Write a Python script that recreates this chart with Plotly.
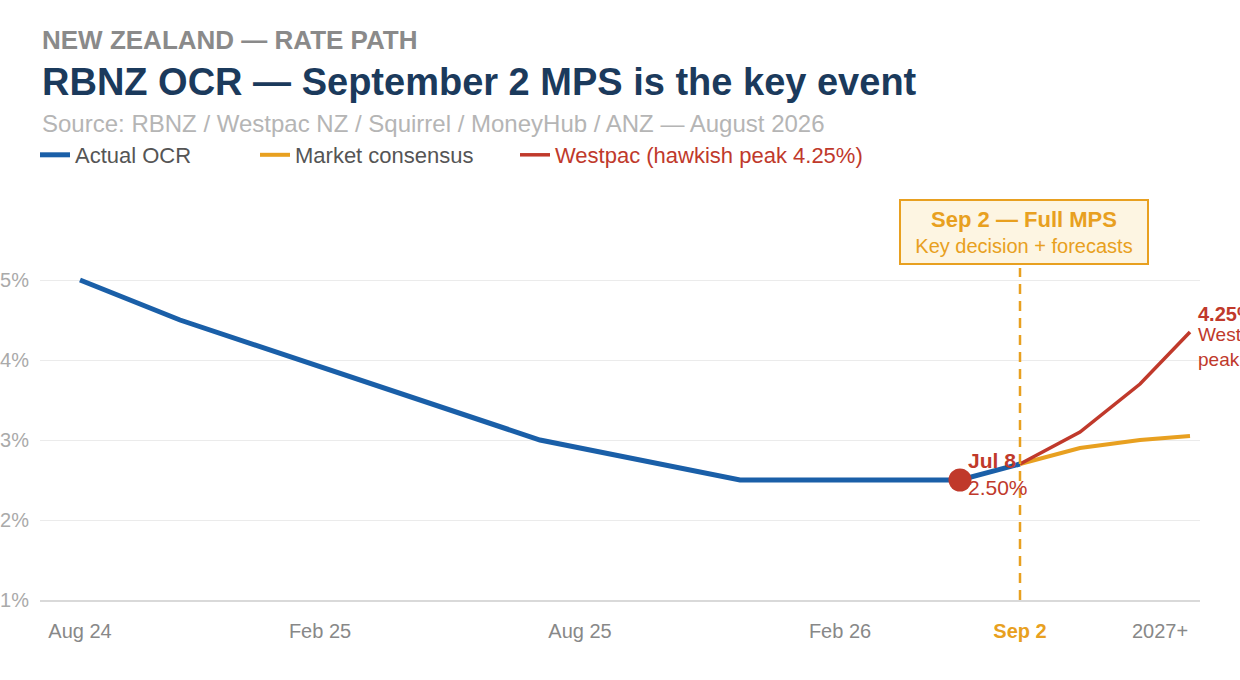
import plotly.graph_objects as go

# ---- data ----
tick_pos = [2, 14, 27, 40, 49, 56]
tick_labels = ["Aug 24", "Feb 25", "Aug 25", "Feb 26",
               "<b><span style='color:#e8a020'>Sep 2</span></b>", "2027+"]

actual_x = [2, 7, 25, 35, 46, 49]
actual_y = [5.0, 4.5, 3.0, 2.5, 2.5, 2.7]

consensus_x = [49, 52, 55, 57.5]
consensus_y = [2.7, 2.9, 3.0, 3.05]

westpac_x = [49, 52, 55, 57.5]
westpac_y = [2.7, 3.1, 3.7, 4.35]

jul8_x = [46]
jul8_y = [2.5]

event_x = 49  # Sep 2 MPS

y_ticks = [1, 2, 3, 4, 5, 5.875]
y_labels = ["1%", "2%", "3%", "4%", "5%", ""]

BLUE = "#1a5fa8"
ORANGE = "#e8a020"
RED = "#c0392b"
FONT = "Liberation Sans, Arial, sans-serif"

fig = go.Figure()
fig.add_trace(go.Scatter(x=actual_x, y=actual_y, mode="lines", name="Actual OCR",
                         line=dict(color=BLUE, width=5), legend="legend"))
fig.add_trace(go.Scatter(x=consensus_x, y=consensus_y, mode="lines", name="Market consensus",
                         line=dict(color=ORANGE, width=4), legend="legend2"))
fig.add_trace(go.Scatter(x=westpac_x, y=westpac_y, mode="lines",
                         name="Westpac (hawkish peak 4.25%)",
                         line=dict(color=RED, width=3.5), legend="legend3"))
fig.add_trace(go.Scatter(x=jul8_x, y=jul8_y, mode="markers", showlegend=False,
                         marker=dict(color=RED, size=23)))

# vertical dashed event line
fig.add_shape(type="line", xref="x", yref="paper", x0=event_x, x1=event_x,
              y0=0, y1=0.851, line=dict(color=ORANGE, width=2.5, dash="10px,7px"))

annotations = [
    dict(xref="paper", yref="paper", x=0, y=(600-40)/390, xanchor="left", yanchor="middle",
         text="<b>NEW ZEALAND — RATE PATH</b>", showarrow=False,
         font=dict(family=FONT, size=26, color="#8a8a8a")),
    dict(xref="paper", yref="paper", x=0, y=(600-82)/390, xanchor="left", yanchor="middle",
         text="<b>RBNZ OCR — September 2 MPS is the key event</b>", showarrow=False,
         font=dict(family=FONT, size=38, color="#1b3a5c")),
    dict(xref="paper", yref="paper", x=0, y=(600-124)/390, xanchor="left", yanchor="middle",
         text="Source: RBNZ / Westpac NZ / Squirrel / MoneyHub / ANZ — August 2026", showarrow=False,
         font=dict(family=FONT, size=24, color="#b5b5b5")),
    # event box
    dict(xref="x", yref="paper", x=event_x, y=(600-232)/390, xanchor="center", yanchor="middle",
         xshift=4, text="<b><span style='font-size:22px'>Sep 2 — Full MPS</span></b><br>Key decision + forecasts",
         showarrow=False, font=dict(family=FONT, size=20, color=ORANGE),
         bgcolor="#fdf5e2", bordercolor=ORANGE, borderwidth=2, borderpad=3,
         width=240, height=56, align="center"),
    # Jul 8 label
    dict(xref="x", yref="y", x=jul8_x[0], y=jul8_y[0], xanchor="left", yanchor="middle",
         xshift=6, yshift=6, text="<b>Jul 8</b><br>2.50%", showarrow=False, align="left",
         font=dict(family=FONT, size=21, color=RED)),
    # Westpac peak label
    dict(xref="x", yref="y", x=westpac_x[-1], y=westpac_y[-1], xanchor="left", yanchor="middle",
         xshift=6, yshift=18, text="<b>4.25%</b>", showarrow=False, align="left",
         font=dict(family=FONT, size=20, color=RED)),
    dict(xref="x", yref="y", x=westpac_x[-1], y=westpac_y[-1], xanchor="left", yanchor="middle",
         xshift=6, yshift=-15, text="Westpac<br>peak", showarrow=False, align="left",
         font=dict(family=FONT, size=19, color=RED)),
]

legend_common = dict(orientation="h", yref="paper", y=(600-155)/390, yanchor="middle",
                     xanchor="left", bgcolor="rgba(0,0,0,0)", borderwidth=0, itemwidth=30)

fig.update_layout(
    width=1240, height=680,
    margin=dict(l=40, r=40, t=210, b=80, autoexpand=False),
    paper_bgcolor="white", plot_bgcolor="white",
    font=dict(family=FONT, color="#555"),
    hovermode=False,
    annotations=annotations,
    legend=dict(x=-5/1160, font=dict(family=FONT, size=22, color="#555"), **legend_common),
    legend2=dict(x=215/1160, font=dict(family=FONT, size=22, color="#555"), **legend_common),
    legend3=dict(x=475/1160, font=dict(family=FONT, size=22, color=RED), **legend_common),
    xaxis=dict(range=[0, 58], tickmode="array", tickvals=tick_pos, ticktext=tick_labels,
               showgrid=False, zeroline=False, showline=True, linecolor="#d9d9d9", linewidth=2,
               ticks="", tickfont=dict(family=FONT, size=20, color="#888"),
               ticklabelstandoff=12, fixedrange=True, automargin=False),
    yaxis=dict(range=[1, 5.875], tickmode="array", tickvals=y_ticks, ticktext=y_labels,
               showgrid=True, gridcolor="#ebebeb", gridwidth=1, zeroline=False, showline=False,
               ticks="", tickfont=dict(family=FONT, size=20, color="#aaa"),
               ticklabelstandoff=10, fixedrange=True, automargin=False),
)

fig.write_html("out.html", config={"displayModeBar": False},
               post_script="document.body.style.margin='0';")
